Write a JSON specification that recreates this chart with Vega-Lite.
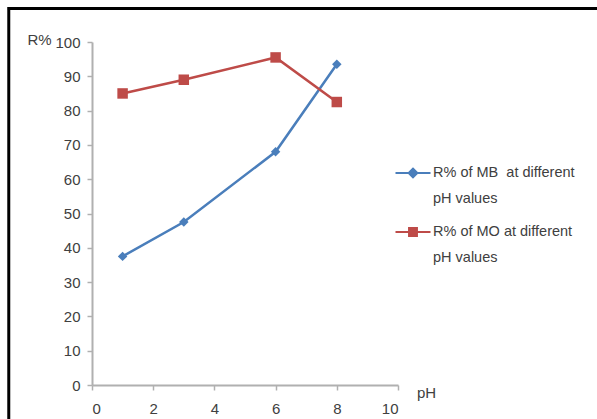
{
  "$schema": "https://vega.github.io/schema/vega-lite/v6.json",
  "width": 306,
  "height": 343,
  "autosize": {"type": "none"},
  "padding": {"left": 92, "top": 42, "right": 199, "bottom": 34},
  "background": "white",
  "config": {
    "view": {"stroke": null},
    "font": "Liberation Sans"
  },
  "datasets": {
    "removal": [
      {"pH": 1, "R": 37.5, "series": "R% of MB  at different pH values"},
      {"pH": 3, "R": 47.5, "series": "R% of MB  at different pH values"},
      {"pH": 6, "R": 68, "series": "R% of MB  at different pH values"},
      {"pH": 8, "R": 93.5, "series": "R% of MB  at different pH values"},
      {"pH": 1, "R": 85, "series": "R% of MO at different pH values"},
      {"pH": 3, "R": 89, "series": "R% of MO at different pH values"},
      {"pH": 6, "R": 95.5, "series": "R% of MO at different pH values"},
      {"pH": 8, "R": 82.5, "series": "R% of MO at different pH values"}
    ]
  },
  "layer": [
    {
      "data": {"name": "removal"},
      "mark": {"type": "line", "strokeWidth": 2.5},
      "encoding": {
        "x": {
          "field": "pH",
          "type": "quantitative",
          "scale": {"domain": [0, 10], "nice": false, "zero": false},
          "axis": {
            "values": [0, 2, 4, 6, 8, 10],
            "tickCount": 20,
            "format": "d",
            "labelOverlap": false,
            "grid": false,
            "domainColor": "#b0b0b0",
            "domainWidth": 2,
            "tickColor": "#b0b0b0",
            "tickWidth": 1.5,
            "tickSize": 5,
            "labelFontSize": 15,
            "labelColor": "#404040",
            "labelPadding": 11,
            "title": "pH",
            "titleFontSize": 15,
            "titleFontWeight": "normal",
            "titleColor": "#404040",
            "titleAngle": 0,
            "titleAlign": "center",
            "titleBaseline": "middle",
            "titleX": 334,
            "titleY": 7
          }
        },
        "y": {
          "field": "R",
          "type": "quantitative",
          "scale": {"domain": [0, 100], "nice": false},
          "axis": {
            "values": [0, 10, 20, 30, 40, 50, 60, 70, 80, 90, 100],
            "tickCount": 20,
            "format": "d",
            "labelOverlap": false,
            "grid": false,
            "domainColor": "#b0b0b0",
            "domainWidth": 2,
            "tickColor": "#b0b0b0",
            "tickWidth": 1.5,
            "tickSize": 5,
            "labelFontSize": 15,
            "labelColor": "#404040",
            "labelPadding": 7,
            "title": "R%",
            "titleFontSize": 15,
            "titleFontWeight": "normal",
            "titleColor": "#404040",
            "titleAngle": 0,
            "titleAlign": "center",
            "titleBaseline": "middle",
            "titleX": -53,
            "titleY": -3
          }
        },
        "color": {
          "field": "series",
          "type": "nominal",
          "scale": {
            "domain": ["R% of MB  at different pH values", "R% of MO at different pH values"],
            "range": ["#4a7ebb", "#be4b48"]
          },
          "legend": {
            "orient": "none",
            "legendX": 302,
            "legendY": 112,
            "title": null,
            "symbolSize": 1225,
            "labelFontSize": 14.5,
            "labelColor": "#404040",
            "labelLimit": 300,
            "labelOffset": 1,
            "rowPadding": 7,
            "labelExpr": "[replace(replace(datum.value, ' pH values', ''), '  ', '\u00a0 '), 'pH values']",
            "encode": {
              "symbols": {
                "update": {
                  "shape": {"signal": "indexof(datum.value, 'MB') >= 0 ? 'M-1,0L1,0M0,-0.24L0.24,0L0,0.24L-0.24,0Z' : 'M-1,0L1,0M-0.22,-0.22L0.22,-0.22L0.22,0.22L-0.22,0.22Z'"},
                  "fill": {"signal": "indexof(datum.value, 'MB') >= 0 ? '#4a7ebb' : '#be4b48'"},
                  "stroke": {"signal": "indexof(datum.value, 'MB') >= 0 ? '#4a7ebb' : '#be4b48'"},
                  "strokeWidth": {"value": 2.2},
                  "opacity": {"value": 1}
                }
              },
              "labels": {
                "update": {
                  "lineHeight": {"value": 26}
                }
              }
            }
          }
        }
      }
    },
    {
      "data": {"name": "removal"},
      "transform": [{"filter": "indexof(datum.series, 'MB') >= 0"}],
      "mark": {"type": "point", "shape": "diamond", "size": 90, "filled": true, "opacity": 1, "color": "#4a7ebb"},
      "encoding": {
        "x": {"field": "pH", "type": "quantitative"},
        "y": {"field": "R", "type": "quantitative"}
      }
    },
    {
      "data": {"name": "removal"},
      "transform": [{"filter": "indexof(datum.series, 'MO') >= 0"}],
      "mark": {"type": "point", "shape": "square", "size": 110, "filled": true, "opacity": 1, "color": "#be4b48"},
      "encoding": {
        "x": {"field": "pH", "type": "quantitative"},
        "y": {"field": "R", "type": "quantitative"}
      }
    },
    {
      "data": {"values": [{}]},
      "mark": {"type": "rule", "color": "black", "strokeWidth": 3},
      "encoding": {
        "x": {"datum": -2.75},
        "x2": {"datum": 20},
        "y": {"datum": 109.8}
      }
    },
    {
      "data": {"values": [{}]},
      "mark": {"type": "rule", "color": "black", "strokeWidth": 3},
      "encoding": {
        "x": {"datum": -2.72},
        "y": {"datum": 110.2},
        "y2": {"datum": -20}
      }
    }
  ]
}
